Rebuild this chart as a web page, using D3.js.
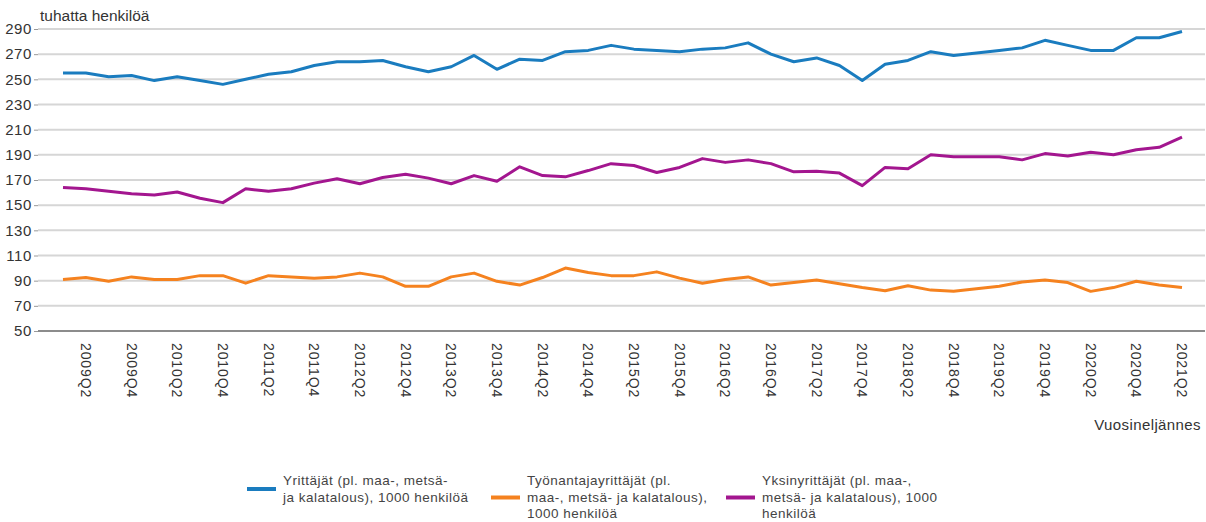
<!DOCTYPE html>
<html>
<head>
<meta charset="utf-8">
<script src="https://cdn.jsdelivr.net/npm/d3@7"></script>
<style>
  body { margin: 0; background: #fff; }
  text { font-family: "Liberation Sans", Arial, sans-serif; fill: #333; }
</style>
</head>
<body>
<div id="chart"></div>
<script>
// quarters 2009Q1 .. 2021Q2
const years = d3.range(2009, 2022);
const quarters = years.flatMap(y => [1, 2, 3, 4].map(q => `${y}Q${q}`)).slice(0, 50);

const yTicks = [50, 70, 90, 110, 130, 150, 170, 190, 210, 230, 250, 270, 290];

const yrittajat = [255, 255, 252, 253, 249, 252, 249, 246, 250, 254,
  256, 261, 264, 264, 265, 260, 256, 260, 269, 258,
  266, 265, 272, 273, 277, 274, 273, 272, 274, 275,
  279, 270, 264, 267, 261, 249, 262, 265, 272, 269,
  271, 273, 275, 281, 277, 273, 273, 283, 283, 288];

const tyonantajat = [91, 92.5, 89.5, 93, 91, 91, 94, 94, 88, 94,
  93, 92, 93, 96, 93, 85.5, 85.5, 93, 96, 89.5,
  86.5, 92.5, 100, 96.5, 94, 94, 97, 92, 88, 91,
  93, 86.5, 88.5, 90.5, 87.5, 84.5, 82, 86, 82.5, 81.5,
  83.5, 85.5, 89, 90.5, 88.5, 81.5, 84.5, 89.5, 86.5, 84.5];

const yksin = [164, 163, 161, 159, 158, 160.5, 155.5, 152, 163, 161,
  163, 167.5, 171, 167, 172, 174.5, 171.5, 167, 173.5, 169,
  180.5, 173.5, 172.5, 177.5, 183, 181.5, 176, 180, 187, 184,
  186, 183, 176.5, 177, 175.5, 165.5, 180, 179, 190, 188.5,
  188.5, 188.5, 186, 191, 189, 192, 190, 194, 196, 204];

const seriesNames = [
  ["Yrittäjät (pl. maa-, metsä-", "ja kalatalous), 1000 henkilöä"],
  ["Työnantajayrittäjät (pl.", "maa-, metsä- ja kalatalous),", "1000 henkilöä"],
  ["Yksinyrittäjät (pl. maa-,", "metsä- ja kalatalous), 1000", "henkilöä"]
];
const colors = ["#1a7cbf", "#f5821f", "#a3168f"];

const width = 1206, height = 522;

const svg = d3.select("#chart")
  .append("svg")
  .attr("width", width)
  .attr("height", height);

const x = d3.scalePoint().domain(quarters).range([63, 1182]);
const y = d3.scaleLinear().domain([50, 290]).range([331, 29]);

// gridlines
svg.append("g")
  .selectAll("line")
  .data(yTicks.slice(1))
  .enter()
  .append("line")
  .attr("x1", 38)
  .attr("x2", 1205)
  .attr("y1", d => y(d))
  .attr("y2", d => y(d))
  .style("stroke", "#d6d6d6")
  .style("stroke-width", 2);

// y axis labels
const yAxis = d3.axisLeft(y).tickValues(yTicks).tickSize(4).tickPadding(2);
const gy = svg.append("g").attr("transform", "translate(38,0)").call(yAxis);
gy.select(".domain").remove();
gy.selectAll(".tick line").style("stroke", "#999");
gy.selectAll(".tick text")
  .style("font-size", "15px")
  .style("letter-spacing", "0.6px")
  .style("fill", "#333")
  .style("font-family", "'Liberation Sans', Arial, sans-serif");

// x axis
svg.append("line")
  .attr("x1", 38).attr("x2", 1205)
  .attr("y1", y(50)).attr("y2", y(50))
  .style("stroke", "#8c8c8c")
  .style("stroke-width", 2);

const xLabels = quarters.filter(q => q.endsWith("Q2") || q.endsWith("Q4"));
svg.append("g")
  .selectAll("text")
  .data(xLabels)
  .enter()
  .append("text")
  .attr("transform", d => `translate(${x(d) - 5}, 343) rotate(90)`)
  .attr("text-anchor", "start")
  .style("font-size", "14px")
  .style("letter-spacing", "0.9px")
  .text(d => d);

svg.append("text")
  .attr("x", 40).attr("y", 21)
  .style("font-size", "15.5px")
  .text("tuhatta henkilöä");

svg.append("text")
  .attr("x", 1201).attr("y", 430)
  .attr("text-anchor", "end")
  .style("font-size", "15px")
  .style("letter-spacing", "0.4px")
  .text("Vuosineljännes");

// lines
const line = d3.line()
  .x((d, i) => x(quarters[i]))
  .y(d => y(d));

[yrittajat, tyonantajat, yksin].forEach((s, k) => {
  svg.append("path")
    .datum(s)
    .attr("d", line)
    .style("fill", "none")
    .style("stroke", colors[k])
    .style("stroke-width", 3)
    .style("stroke-linejoin", "round");
});

// legend
const legendX = [247, 491, 726];
const legend = svg.append("g")
  .selectAll("g")
  .data(seriesNames)
  .enter()
  .append("g")
  .attr("transform", (d, i) => `translate(${legendX[i]}, 0)`);

legend.append("line")
  .attr("x1", 0).attr("x2", 29)
  .attr("y1", d => 489 + (d.length - 2) * 8.5)
  .attr("y2", d => 489 + (d.length - 2) * 8.5)
  .style("stroke", (d, i) => colors[i])
  .style("stroke-width", 4);

legend.each(function (d) {
  const t = d3.select(this).append("text")
    .attr("x", 36)
    .attr("y", 485)
    .style("font-size", "13.5px")
    .style("letter-spacing", "0.5px")
    .style("fill", "#444");
  d.forEach((l, j) => {
    t.append("tspan").attr("x", 36).attr("dy", j === 0 ? 0 : 16.5).text(l);
  });
});
</script>
</body>
</html>
